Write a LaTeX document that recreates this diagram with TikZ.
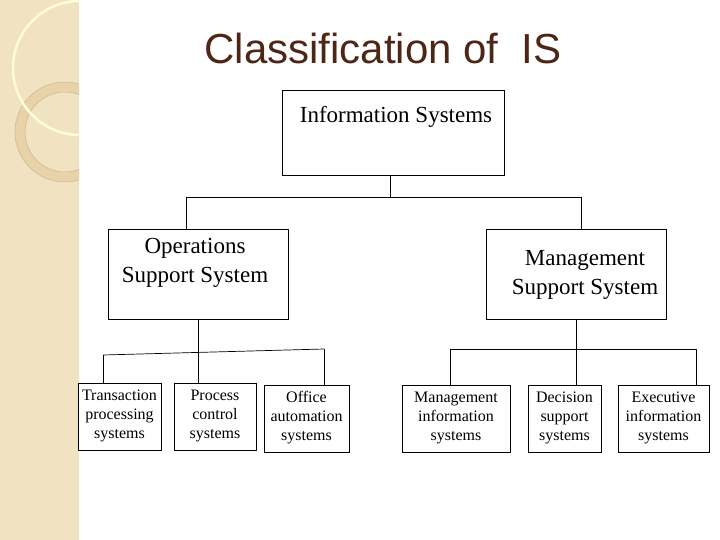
\documentclass[tikz,border=0pt]{standalone}
\usepackage{fontspec}
\setmainfont{Liberation Serif}
\newfontfamily\titlefont{Liberation Sans}
\definecolor{strip}{HTML}{F1E2C2}
\definecolor{ringc}{HTML}{E8D3A8}
\definecolor{ringl}{HTML}{CDB690}
\definecolor{titlec}{HTML}{4E2618}
\begin{document}
\begin{tikzpicture}[x=1pt,y=-1pt,
  box/.style={draw,line width=0.7pt,inner sep=0pt},
  big/.style={font=\fontsize{23}{29}\selectfont,align=center},
  small/.style={font=\fontsize{16}{19}\selectfont,align=center},
  ln/.style={line width=0.7pt}]
\useasboundingbox (0,0) rectangle (720,540);
\fill[white] (0,0) rectangle (720,540);
\fill[strip] (0,0) rectangle (79,540);
\begin{scope}
\clip (0,0) rectangle (79,540);
\fill[white,opacity=0.3] (0,0) -- (64,0) arc[start angle=0,end angle=-90,radius=63] -- cycle;
\draw[ringl,line width=0.5pt] (64,0) arc[start angle=0,end angle=-90,radius=63];
\draw[ringc,line width=10pt] (65,132) circle[radius=45];
\draw[ringl,line width=0.5pt] (65,132) circle[radius=50];
\draw[ringl,line width=0.5pt] (65,132) circle[radius=40];
\draw[white!85!yellow,line width=2.5pt] (80,68) circle[radius=67];
\end{scope}
\node[font=\titlefont\fontsize{42}{46}\selectfont,text=titlec] (title) at (383,48) {Classification of\ \ IS};
\draw[box] (282,90) rectangle (504,175);
\node[big] (is) at (396,117) {Information Systems};
\coordinate (isb) at (390,175);
\draw[box] (108,229) rectangle (288,319);
\node[big] (oss) at (195,263) {Operations\\Support System};
\draw[box] (486,229) rectangle (666,319);
\node[big] (mss) at (585,275) {Management\\Support System};
\draw[ln] (isb) -- (390,197) (186,197) -- (581,197) (186,197) -- (186,229) (581,197) -- (581,229);
\foreach \n/\a/\b/\c/\d/\t in {tps/78/383/161/450/Transaction\\processing\\systems,
 pcs/174/383/256/450/Process\\control\\systems,
 oa/264/385/349/452/Office\\automation\\systems,
 mis/402/385/510/452/Management\\information\\systems,
 dss/528/385/601/452/Decision\\support\\systems,
 eis/618/385/709/452/Executive\\information\\systems}{
  \draw[box] (\a,\b) rectangle (\c,\d);
  \node[small] (\n) at ({(\a+\c)/2},{(\b+\d)/2-1}) {\t};
}
\draw[ln] (198,319) -- (198,383);
\draw[ln] (103,355) -- (324,349);
\draw[ln] (103,355) -- (103,383) (324,349) -- (324,385);
\draw[ln] (576,319) -- (576,385) (450,349) -- (696,349) (450,349) -- (450,385) (696,349) -- (696,385);
\end{tikzpicture}
\end{document}
